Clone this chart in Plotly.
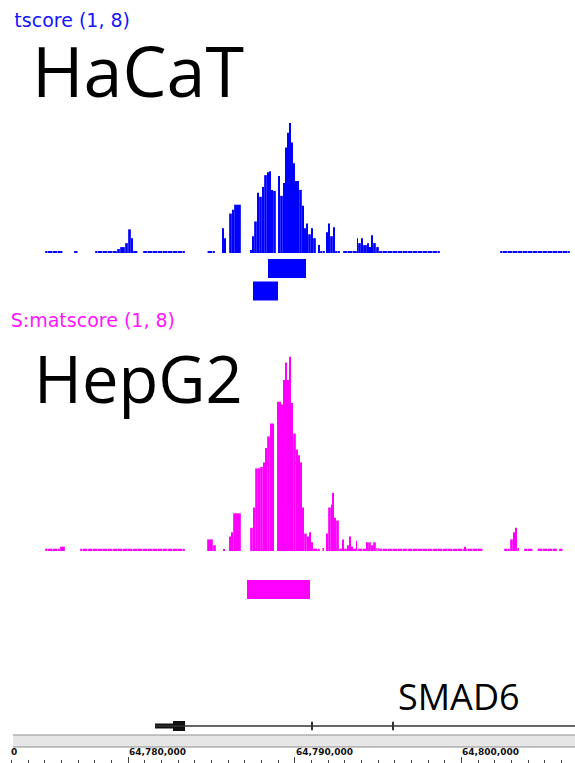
import plotly.graph_objects as go

W, H = 575, 763

# ---------------- data ----------------
view_start, view_end = 64772320, 64806820

hacat_start = [64775020, 64776760, 64778020, 64779340, 64779520, 64779820, 64780000, 64780180, 64780300,
               64780900, 64784740, 64785640, 64785760, 64786060, 64786240, 64786360, 64787320, 64787440,
               64787560, 64787740, 64787860, 64788040, 64788160, 64788340, 64788460, 64788580, 64788700,
               64789000, 64789120, 64789300, 64789420, 64789540, 64789660, 64789780, 64789900, 64790020,
               64790140, 64790260, 64790440, 64790560, 64790680, 64790800, 64790980, 64791100, 64791400,
               64791520, 64791880, 64792000, 64792120, 64792300, 64792420, 64792900, 64793740, 64793800,
               64793980, 64794100, 64794340, 64794460, 64794580, 64794700, 64794880, 64795060, 64802320]
hacat_end = [64776100, 64777000, 64779340, 64779520, 64779820, 64780000, 64780180, 64780300, 64780600,
             64783420, 64785220, 64785760, 64785880, 64786240, 64786360, 64786780, 64787440, 64787560,
             64787740, 64787860, 64788040, 64788160, 64788340, 64788460, 64788580, 64788700, 64788880,
             64789120, 64789300, 64789420, 64789540, 64789660, 64789780, 64789900, 64790020, 64790140,
             64790260, 64790440, 64790560, 64790680, 64790800, 64790980, 64791100, 64791280, 64791520,
             64791820, 64792000, 64792120, 64792300, 64792420, 64792720, 64793740, 64793800, 64793980,
             64794100, 64794340, 64794460, 64794580, 64794700, 64794880, 64795060, 64798720, 64806520]
hacat_score = [1.1, 1.1, 1.1, 1.2, 1.3, 1.5, 2.2, 1.75, 1.1,
               1.1, 1.1, 2.25, 1.75, 3.0, 3.2, 3.45, 1.15, 1.85,
               2.6, 4.05, 3.85, 4.35, 4.95, 5.1, 5.15, 4.2, 4.15,
               4.9, 3.9, 4.55, 6.35, 7.1, 7.6, 6.6, 5.55, 4.65,
               4.65, 4.2, 3.4, 2.25, 2.5, 1.95, 2.25, 1.75, 1.4,
               1.1, 2.05, 2.5, 1.85, 2.3, 1.1, 1.1, 1.75, 1.5,
               1.75, 1.4, 1.5, 1.3, 1.9, 1.5, 1.3, 1.1, 1.1]

hacat_peak_start = [64788400, 64787500]
hacat_peak_end = [64790680, 64789000]
hacat_peak_row = [1, 2]

hepg2_start = [64775020, 64775920, 64777120, 64784740, 64785100, 64785700, 64786060, 64786180, 64786300,
               64787320, 64787500, 64787620, 64787800, 64787920, 64788100, 64788220, 64788340, 64788520,
               64788640, 64788940, 64789060, 64789180, 64789300, 64789420, 64789540, 64789660, 64789780,
               64789900, 64790080, 64790200, 64790320, 64790440, 64790560, 64790740, 64790860, 64790980,
               64791100, 64791640, 64791880, 64792000, 64792180, 64792260, 64792360, 64792480, 64792660,
               64792840, 64792960, 64793140, 64793260, 64793380, 64793500, 64793680, 64793740, 64794280,
               64794400, 64794580, 64794700, 64794880, 64795060, 64800160, 64800280, 64802560, 64802920,
               64803100, 64803220, 64803340, 64803760, 64804540, 64805860]
hepg2_end = [64775920, 64776220, 64783420, 64785100, 64785280, 64785820, 64786180, 64786300, 64786780,
             64787500, 64787620, 64787800, 64787920, 64788100, 64788220, 64788340, 64788520, 64788640,
             64788760, 64789060, 64789180, 64789300, 64789420, 64789540, 64789660, 64789780, 64789900,
             64790080, 64790200, 64790320, 64790440, 64790560, 64790740, 64790860, 64790980, 64791100,
             64791520, 64791760, 64792000, 64792180, 64792260, 64792360, 64792480, 64792660, 64792840,
             64792960, 64793140, 64793260, 64793380, 64793500, 64793680, 64793740, 64794280, 64794400,
             64794580, 64794700, 64794880, 64795060, 64800160, 64800280, 64801300, 64802920, 64803100,
             64803220, 64803340, 64803460, 64804300, 64805740, 64806100]
hepg2_score = [1.08, 1.15, 1.08, 1.4, 1.2, 1.07, 1.5, 1.65, 2.3,
               1.8, 2.5, 3.85, 3.85, 3.9, 4.05, 4.55, 4.95, 5.4,
               5.4, 6.15, 6.15, 6.05, 6.9, 7.5, 6.9, 7.7, 6.1,
               5.05, 4.5, 4.3, 4.05, 2.5, 1.6, 1.5, 1.65, 1.3,
               1.08, 1.1, 1.6, 2.5, 2.6, 3.0, 2.15, 2.05, 1.08,
               1.4, 1.08, 1.2, 1.5, 1.15, 1.08, 1.35, 1.08, 1.3,
               1.3, 1.2, 1.3, 1.1, 1.08, 1.15, 1.08, 1.08, 1.4,
               1.65, 1.8, 1.1, 1.08, 1.08, 1.08]

hepg2_peak_start = [64787140]
hepg2_peak_end = [64790920]
hepg2_peak_row = [1]

gene_name = "SMAD6"
gene_start, gene_end = 64781620, 64812000
gene_part_start = [64781620, 64782700, 64791000, 64795860]
gene_part_end = [64782700, 64783420, 64791080, 64795940]
gene_part_kind = ["utr", "cds", "exon", "exon"]

ruler_ticks = [64770000, 64780000, 64790000, 64800000]
ruler_labels = ["64,770,000", "64,780,000", "64,790,000", "64,800,000"]

track_labels = ["HaCaT_DHS:matscore (1, 8)", "HepG2_DHS:matscore (1, 8)"]
cell_names = ["HaCaT", "HepG2"]

BLUE = "#0000ff"
MAGENTA = "#ff00ff"
PANEL_LEFT = 12      # px: names/labels are clipped at the data panel's left edge
RULER_LABEL_W = 57   # px width of one ruler label


def py(p):
    return 1 - p / H


def px(p):
    return p / W


fig = go.Figure()


def signal(starts, ends, scores, color, yaxis):
    xs = [(s + e) / 2 for s, e in zip(starts, ends)]
    ws = [(e - s) - 20 for s, e in zip(starts, ends)]
    hs = [v - 1 for v in scores]
    shapes = ["|" if v <= 1.1 else "" for v in scores]
    fig.add_trace(go.Bar(
        x=xs, y=hs, base=1, width=ws, xaxis="x", yaxis=yaxis,
        marker=dict(color=color, line=dict(width=0),
                    pattern=dict(shape=shapes, fgcolor="white", size=5, solidity=0.22)),
        hoverinfo="skip"))


def peaks(starts, ends, rows, color, yaxis):
    fig.add_trace(go.Bar(
        y=rows, x=[e - s for s, e in zip(starts, ends)], base=starts,
        orientation="h", width=0.84, xaxis="x", yaxis=yaxis,
        marker=dict(color=color, line=dict(width=0)), hoverinfo="skip"))


signal(hacat_start, hacat_end, hacat_score, BLUE, "y")
peaks(hacat_peak_start, hacat_peak_end, hacat_peak_row, BLUE, "y2")
signal(hepg2_start, hepg2_end, hepg2_score, MAGENTA, "y3")
peaks(hepg2_peak_start, hepg2_peak_end, hepg2_peak_row, MAGENTA, "y4")

# gene model
fig.add_trace(go.Scatter(x=[gene_start, gene_end], y=[0, 0], mode="lines",
                         line=dict(color="#333333", width=1.5), xaxis="x", yaxis="y5",
                         hoverinfo="skip"))
kind_h = {"utr": 0.5, "cds": 1.0, "exon": 0.85}
kind_c = {"utr": "#111111", "cds": "#111111", "exon": "#333333"}
fig.add_trace(go.Bar(
    y=[0] * len(gene_part_start), x=[e - s for s, e in zip(gene_part_start, gene_part_end)],
    base=gene_part_start, orientation="h", width=[kind_h[k] for k in gene_part_kind],
    marker=dict(color=[kind_c[k] for k in gene_part_kind], line=dict(width=0)),
    xaxis="x", yaxis="y5", hoverinfo="skip"))

hidden = dict(visible=False, fixedrange=True, anchor="x")
fig.update_layout(
    width=W, height=H, margin=dict(l=0, r=0, t=0, b=0),
    paper_bgcolor="white", plot_bgcolor="white", showlegend=False, barmode="overlay",
    xaxis=dict(range=[view_start, view_end], showgrid=False, zeroline=False, showline=False,
               anchor="free", position=0, side="top",
               tickmode="array", tickvals=ruler_ticks, showticklabels=False,
               ticks="outside", ticklen=6, tickwidth=1, tickcolor="#444444",
               minor=dict(dtick=1000, tick0=64770000, ticks="outside", ticklen=3,
                          tickcolor="#444444", showgrid=False),
               fixedrange=True),
    yaxis=dict(domain=[py(253), py(115)], range=[1, 8], **hidden),
    yaxis2=dict(domain=[py(302.25), py(257.25)], range=[2.5, 0.5], **hidden),
    yaxis3=dict(domain=[py(551), py(348)], range=[1, 8], **hidden),
    yaxis4=dict(domain=[py(600.75), py(578.25)], range=[1.5, 0.5], **hidden),
    yaxis5=dict(domain=[py(736), py(716)], range=[-1, 1], **hidden),
)

# ruler band
fig.add_shape(type="rect", xref="paper", yref="paper", x0=px(13), x1=1, y0=py(747), y1=py(735),
              fillcolor="#e6e6e6", line=dict(width=0), layer="below")
for yy in (735, 747):
    fig.add_shape(type="line", xref="paper", yref="paper", x0=px(13), x1=1, y0=py(yy), y1=py(yy),
                  line=dict(color="#8c8c8c", width=1))

# ruler labels, left-aligned on their ticks; clipped at the panel's left edge
tick_font = dict(family="DejaVu Sans", size=9, weight="bold", color="#111111")
for t, lab in zip(ruler_ticks, ruler_labels):
    left = (t - view_start) / (view_end - view_start) * W
    if left >= PANEL_LEFT:
        fig.add_annotation(x=px(left), y=py(752), xref="paper", yref="paper", xanchor="left",
                           yanchor="middle", text=lab, showarrow=False, borderpad=0, font=tick_font)
    else:
        right = left + RULER_LABEL_W
        if right > PANEL_LEFT:
            fig.add_annotation(x=px(right), y=py(752), xref="paper", yref="paper", xanchor="right",
                               yanchor="middle", text=lab, showarrow=False, borderpad=0,
                               width=right - PANEL_LEFT, height=12, align="right", font=tick_font)

# track name labels (clipped on the left by the panel edge)
fig.add_annotation(x=px(131), y=py(20), xref="paper", yref="paper", xanchor="right", yanchor="middle",
                   text=track_labels[0], showarrow=False, borderpad=0, align="right",
                   width=131 - PANEL_LEFT - 4, height=24,
                   font=dict(family="DejaVu Sans", size=19, color="#1414ff"))
fig.add_annotation(x=px(176), y=py(320), xref="paper", yref="paper", xanchor="right", yanchor="middle",
                   text=track_labels[1], showarrow=False, borderpad=0, align="right",
                   width=176 - PANEL_LEFT - 1, height=24,
                   font=dict(family="DejaVu Sans", size=19, color="#ff14ff"))

# big cell-line names
fig.add_annotation(x=px(31), y=py(70), xref="paper", yref="paper", xanchor="left", yanchor="middle",
                   text=cell_names[0], showarrow=False, borderpad=0,
                   font=dict(family="Open Sans", size=70, color="black"))
fig.add_annotation(x=px(33), y=py(378), xref="paper", yref="paper", xanchor="left", yanchor="middle",
                   text=cell_names[1], showarrow=False, borderpad=0,
                   font=dict(family="Open Sans", size=65, color="black"))

# gene name
fig.add_annotation(x=px(459), y=py(696), xref="paper", yref="paper", xanchor="center", yanchor="middle",
                   text=gene_name, showarrow=False, borderpad=0,
                   font=dict(family="Open Sans", size=36, color="black"))

fig.write_html("out.html", config={"displayModeBar": False},
               post_script="document.body.style.margin='0';")
